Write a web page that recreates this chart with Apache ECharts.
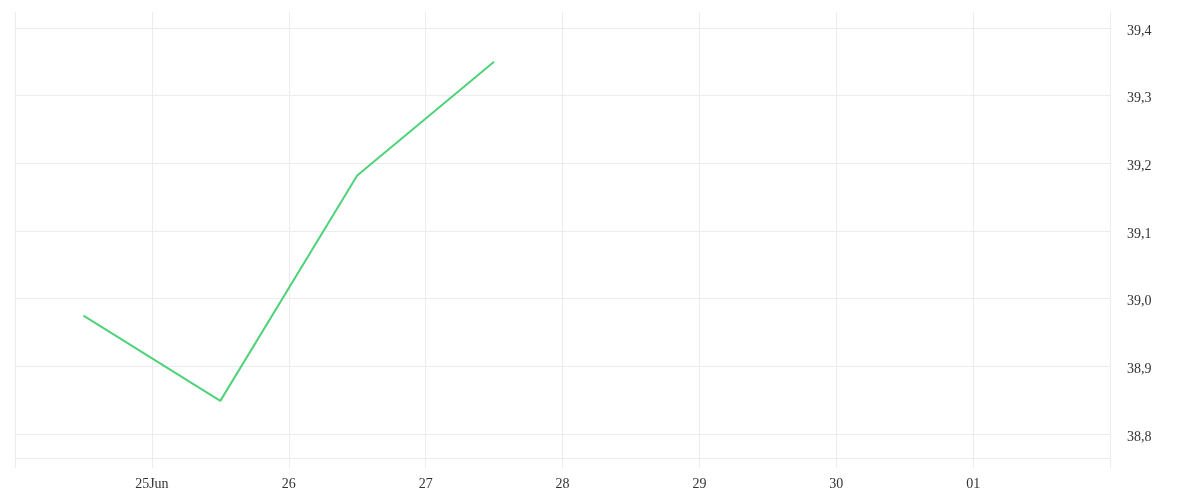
<!DOCTYPE html>
<html>
<head>
<meta charset="utf-8">
<script src="https://cdn.jsdelivr.net/npm/echarts@6/dist/echarts.min.js"></script>
<style>html,body{margin:0;padding:0;background:#fff}#c{width:1200px;height:500px}</style>
</head>
<body>
<div id="c"></div>
<script>
// Data
const dates = ['2024-06-24 12:00', '2024-06-25 12:00', '2024-06-26 12:00', '2024-06-27 12:00'];
const values = [38.975, 38.849, 39.182, 39.350];
const xRange = ['2024-06-24 00:00', '2024-07-02 00:00'];
const yRange = [38.7646, 39.4236];
const monthNames = ['Jan','Feb','Mar','Apr','May','Jun','Jul','Aug','Sep','Oct','Nov','Dec'];

const DAY = 86400000;
const xMin = new Date(xRange[0].replace(' ', 'T')).getTime();
const xMax = new Date(xRange[1].replace(' ', 'T')).getTime();
const font = 'Liberation Serif';
const gridColor = '#ececec';

const chart = echarts.init(document.getElementById('c'));
chart.setOption({
  animation: false,
  grid: { left: 15, right: 90, top: 12, bottom: 42, containLabel: false },
  xAxis: {
    type: 'time',
    min: xMin,
    max: xMax,
    minInterval: DAY,
    maxInterval: DAY,
    axisLine: { show: true, lineStyle: { color: gridColor, width: 1 } },
    axisTick: { show: true, length: 10, lineStyle: { color: gridColor } },
    splitLine: { show: true, showMinLine: true, showMaxLine: true, lineStyle: { color: gridColor } },
    axisLabel: {
      margin: 19,
      color: '#333',
      fontFamily: font,
      fontSize: 14,
      formatter: function (v) {
        if (v <= xMin || v >= xMax) return '';
        const d = new Date(v);
        const dd = String(d.getDate()).padStart(2, '0');
        return (v - xMin === DAY) ? dd + monthNames[d.getMonth()] : dd;
      }
    }
  },
  yAxis: {
    type: 'value',
    position: 'right',
    min: yRange[0],
    max: yRange[1],
    splitNumber: 6,
    axisLine: { show: true, lineStyle: { color: gridColor } },
    axisTick: { show: false },
    splitLine: { show: true, showMinLine: false, showMaxLine: false, lineStyle: { color: gridColor } },
    axisLabel: {
      showMinLabel: false,
      showMaxLabel: false,
      margin: 17,
      color: '#333',
      fontFamily: font,
      fontSize: 14,
      formatter: function (v) { return '{a|' + v.toFixed(1).replace('.', ',') + '}'; },
      rich: { a: { fontFamily: font, fontSize: 14, color: '#333', padding: [6, 0, 0, 0] } }
    }
  },
  series: [{
    type: 'line',
    data: dates.map((d, i) => [d, values[i]]),
    showSymbol: false,
    symbol: 'none',
    lineStyle: { color: '#4fd27a', width: 2 },
    itemStyle: { color: '#4fd27a' }
  }]
});
</script>
</body>
</html>
